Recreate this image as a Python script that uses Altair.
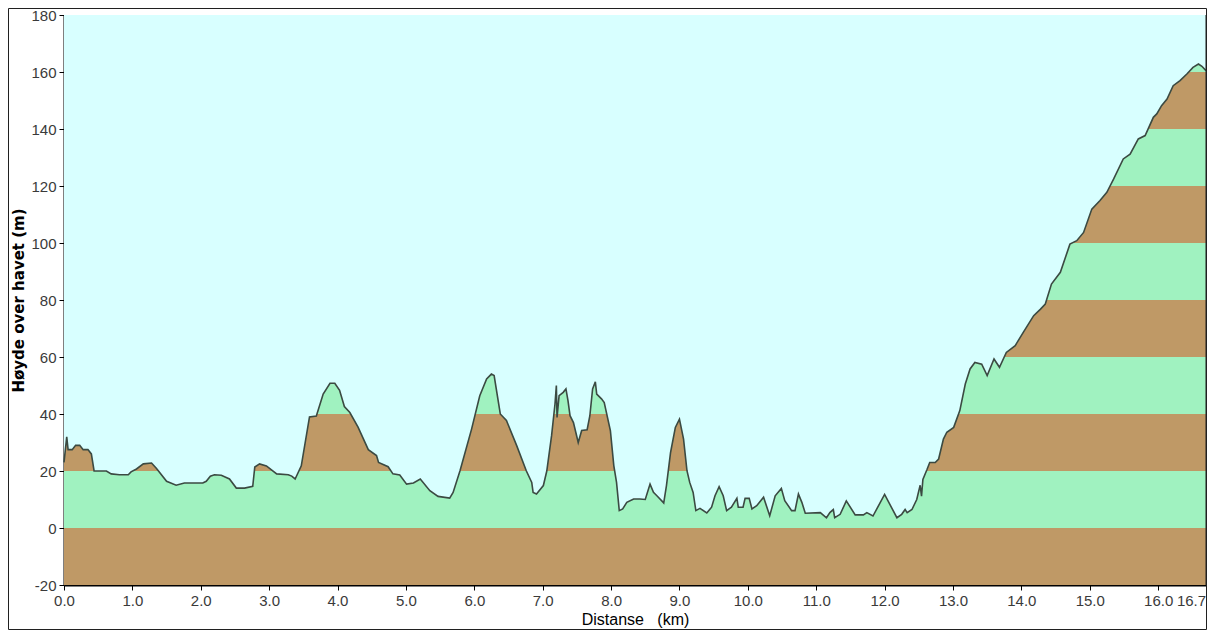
import altair as alt
import pandas as pd

# Elevation profile (distance in km, elevation in m)
dist_km = [0.00, 0.04, 0.06, 0.12, 0.17, 0.23, 0.28, 0.35, 0.40, 0.44, 0.62, 0.69, 0.81, 0.94, 0.98,
           1.06, 1.16, 1.28, 1.35, 1.50, 1.64, 1.76, 2.03, 2.08, 2.14, 2.20, 2.30, 2.42, 2.52, 2.64,
           2.76, 2.79, 2.86, 2.96, 3.11, 3.28, 3.33, 3.38, 3.47, 3.59, 3.69, 3.79, 3.89, 3.96, 4.03,
           4.10, 4.18, 4.30, 4.45, 4.57, 4.60, 4.74, 4.81, 4.91, 5.01, 5.11, 5.21, 5.35, 5.47, 5.64,
           5.69, 5.79, 5.96, 6.08, 6.18, 6.25, 6.29, 6.38, 6.47, 6.62, 6.76, 6.84, 6.86, 6.91, 7.01,
           7.06, 7.13, 7.18, 7.20, 7.21, 7.24, 7.30, 7.34, 7.37, 7.40, 7.45, 7.52, 7.57, 7.65, 7.69,
           7.73, 7.77, 7.79, 7.86, 7.90, 7.99, 8.04, 8.08, 8.12, 8.17, 8.23, 8.33, 8.42, 8.50, 8.57,
           8.62, 8.67, 8.77, 8.81, 8.87, 8.94, 9.00, 9.06, 9.11, 9.15, 9.20, 9.24, 9.30, 9.40, 9.47,
           9.52, 9.58, 9.64, 9.69, 9.76, 9.84, 9.86, 9.93, 9.96, 10.02, 10.06, 10.13, 10.23, 10.32,
           10.40, 10.49, 10.54, 10.64, 10.69, 10.74, 10.79, 10.84, 11.06, 11.15, 11.20, 11.25, 11.27,
           11.35, 11.44, 11.57, 11.69, 11.74, 11.83, 12.00, 12.18, 12.25, 12.30, 12.33, 12.40, 12.47,
           12.52, 12.54, 12.56, 12.62, 12.66, 12.74, 12.79, 12.86, 12.91, 13.01, 13.10, 13.18, 13.25,
           13.32, 13.42, 13.50, 13.60, 13.68, 13.78, 13.91, 14.03, 14.18, 14.28, 14.35, 14.44, 14.57,
           14.71, 14.81, 14.91, 15.03, 15.15, 15.25, 15.35, 15.49, 15.59, 15.71, 15.81, 15.93, 15.98,
           16.05, 16.13, 16.22, 16.32, 16.42, 16.51, 16.59, 16.64, 16.70]
elev_m = [23, 32, 27.5, 27.5, 29, 29, 27.5, 27.5, 26, 20, 20, 19, 18.7, 18.7, 19.7,
          20.7, 22.5, 22.8, 21, 16.4, 15, 15.8, 15.8, 16.4, 18.2, 18.7, 18.5, 17.2, 14, 14,
          14.6, 21.4, 22.5, 21.8, 19, 18.7, 18.2, 17.2, 21.8, 39, 39.3, 47, 50.8, 50.8, 48.3,
          42.6, 40.5, 35.4, 27.5, 25.4, 23, 21.5, 19, 18.6, 15.4, 15.8, 17.2, 13.1, 11.1, 10.5,
          12.5, 20, 34.7, 46.4, 52.3, 54, 53.5, 40, 37.7, 28.9, 20.1, 16, 12.5, 11.9, 14.9,
          20, 32.4, 43.5, 50, 38.8, 46.4, 47.6, 48.8, 44.7, 39.4, 37, 30, 34.2, 34.5, 39.4,
          48.8, 51.3, 47, 45.3, 44, 34.2, 21.9, 16, 6.1, 6.7, 9, 10.2, 10.2, 10, 15.4,
          12.5, 11.3, 8.8, 14.9, 26.5, 35.3, 38.2, 31.2, 20.1, 16, 12.5, 6.1, 6.9, 5.3, 7.3,
          11.3, 14.5, 11.3, 6.1, 7.3, 10.4, 7.3, 7.3, 10.4, 10.4, 6.7, 7.8, 10.8, 4.3,
          11.3, 13.9, 9.6, 6.1, 6.1, 11.9, 9, 5.2, 5.4, 3.6, 5.4, 6.5, 3.6,
          4.8, 9.5, 4.6, 4.6, 5.4, 4.2, 11.8, 3.6, 4.8, 6.5, 5.4, 6.5, 10,
          15, 11.2, 17, 20.5, 23, 23, 24.2, 31.2, 33.6, 35.3, 41.2, 50.5, 55.8,
          58.1, 57.5, 53.5, 59.3, 56.4, 61.6, 64, 68.7, 74.5, 76.8, 78.6, 85.6, 89.7,
          99.6, 100.8, 103.7, 111.9, 114.9, 117.8, 122.5, 129.5, 131.2, 136.5, 137.7, 144.1, 145.3,
          148.2, 150.5, 155.2, 157, 159.3, 161.6, 162.8, 162, 160.5]

# Elevation bands (20 m each), alternating colours
band_lo = [-20, 0, 20, 40, 60, 80, 100, 120, 140, 160]
band_hi = [0, 20, 40, 60, 80, 100, 120, 140, 160, 180]
band_col = ["#bf9966", "#a0f2c0", "#bf9966", "#a0f2c0", "#bf9966",
            "#a0f2c0", "#bf9966", "#a0f2c0", "#bf9966", "#a0f2c0"]

x_ticks = [float(v) for v in range(0, 17)] + [16.7]
y_ticks = list(range(-20, 181, 20))

SKY = "#d8ffff"
W, H = 1142, 570

prof = pd.DataFrame({"d": dist_km, "e": elev_m})
bands = pd.DataFrame({"lo": band_lo, "hi": band_hi, "c": band_col})

xscale = alt.Scale(domain=[0, 16.7], nice=False, zero=False)
yscale = alt.Scale(domain=[-20, 180], nice=False, zero=False)

xaxis = alt.Axis(values=x_ticks, format=".1f", title="Distanse\u00a0\u00a0\u00a0(km)",
                 grid=False, domainColor="black", domainWidth=2, tickColor="black",
                 tickSize=5, labelFontSize=15, labelColor="#3a3a3a", labelFont="Liberation Sans",
                 titleFontSize=16, titleFontWeight="normal", titleFont="Liberation Sans",
                 titleColor="black", titlePadding=3, labelPadding=3, labelFlush=False,
                 labelOverlap=False,
                 labelOffset={"condition": {"test": "datum.value > 16.5", "value": -15}, "value": 0})
yaxis = alt.Axis(values=y_ticks, title="Høyde over havet (m)", grid=False,
                 domainColor="black", domainWidth=2, tickColor="black", tickSize=5,
                 labelFontSize=15, labelColor="#3a3a3a", labelFont="Liberation Sans",
                 labelExpr="replace(datum.label, '\u2212', '-')",
                 titleFontSize=15, titleFontWeight="bold", titleFont="DejaVu Sans",
                 titleColor="black", titlePadding=4, labelPadding=3, labelFlush=False,
                 labelOverlap=False)

band_layer = alt.Chart(bands).mark_rect().encode(
    x=alt.value(0), x2=alt.value(W),
    y=alt.Y("lo:Q", scale=yscale, axis=yaxis),
    y2="hi:Q",
    color=alt.Color("c:N", scale=None),
)

sky_layer = alt.Chart(prof).mark_area(color=SKY, opacity=1, interpolate="linear").encode(
    x=alt.X("d:Q", scale=xscale, axis=xaxis),
    y=alt.Y("e:Q", scale=yscale),
    y2=alt.datum(180),
)

line_layer = alt.Chart(prof).mark_line(color="#3b4a42", strokeWidth=1.6).encode(
    x=alt.X("d:Q", scale=xscale),
    y=alt.Y("e:Q", scale=yscale),
)

one = pd.DataFrame({"k": [0]})

# right border of the plot area
plot_border = alt.Chart(one).mark_rule(color="#222222", strokeWidth=1.5).encode(
    x=alt.value(W + 0.25), y=alt.value(0), y2=alt.value(H),
)

# outer frame of the whole picture
frame = alt.Chart(one).mark_rect(
    fill=None, stroke="#202020", strokeWidth=1, clip=False
).encode(
    x=alt.value(-55.5), x2=alt.value(W + 0.5),
    y=alt.value(-6.5), y2=alt.value(H + 44.5),
)

chart = alt.layer(band_layer, sky_layer, line_layer, plot_border, frame).properties(
    width=W, height=H,
    autosize=alt.AutoSizeParams(type="none"),
    padding={"left": 56, "top": 7, "right": 1, "bottom": 45},
    background="white",
).configure_view(strokeWidth=0)

chart.save("out.html", embed_options={"renderer": "svg", "actions": False})
